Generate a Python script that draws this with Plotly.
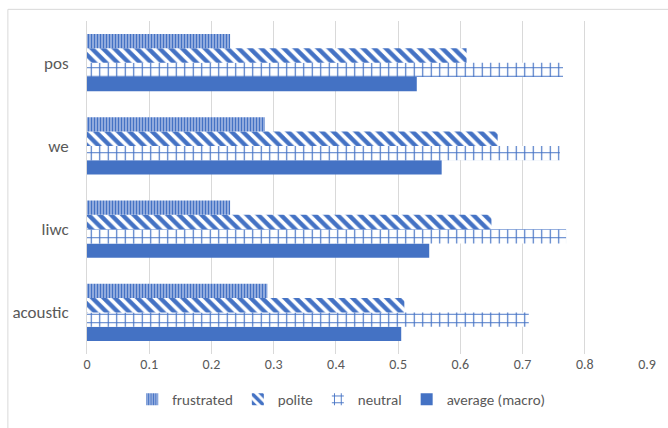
import plotly.graph_objects as go

# Feature sets (bottom to top) and per-class scores
categories = ["acoustic", "liwc", "we", "pos"]
frustrated = [0.29, 0.23, 0.286, 0.23]
polite = [0.51, 0.65, 0.66, 0.61]
neutral = [0.71, 0.77, 0.76, 0.765]
average_macro = [0.505, 0.55, 0.57, 0.53]
x_ticks = [0, 0.1, 0.2, 0.3, 0.4, 0.5, 0.6, 0.7, 0.8, 0.9]

BLUE = "#4472C4"
LIGHT = "#A9BDE6"
GRID = "#D9D9D9"
TEXT = "#595959"
FONT = "Carlito, Calibri, Noto Sans, sans-serif"

fig = go.Figure()

# horizontal grouped bars stack upward, so the bottom bar goes first
fig.add_trace(go.Bar(
    y=categories, x=average_macro, orientation="h", name="average (macro)",
    marker=dict(color=BLUE, line=dict(width=0)),
))
fig.add_trace(go.Bar(
    y=categories, x=neutral, orientation="h", name="neutral",
    marker=dict(color="white", line=dict(width=0),
                pattern=dict(shape="+", fgcolor=BLUE, bgcolor="white",
                             fgopacity=1, size=8.5, solidity=0.25)),
))
fig.add_trace(go.Bar(
    y=categories, x=polite, orientation="h", name="polite",
    marker=dict(color="white", line=dict(width=0),
                pattern=dict(shape="\\", fgcolor=BLUE, bgcolor="white",
                             fgopacity=1, size=8, solidity=0.55)),
))
fig.add_trace(go.Bar(
    y=categories, x=frustrated, orientation="h", name="frustrated",
    marker=dict(color=LIGHT, line=dict(width=0),
                pattern=dict(shape="|", fgcolor=BLUE, bgcolor=LIGHT,
                             fgopacity=1, size=3, solidity=0.5)),
))

# light chart-area frame
fig.add_shape(type="rect", xref="paper", yref="paper",
              x0=-0.1413, x1=1.3, y0=-0.5, y1=1.035,
              line=dict(color=GRID, width=1), fillcolor="rgba(0,0,0,0)",
              layer="below")

fig.update_layout(
    width=668, height=428,
    margin=dict(l=86, r=16, t=21, b=65),
    paper_bgcolor="white", plot_bgcolor="white",
    barmode="group", bargap=0.31, bargroupgap=0,
    font=dict(family=FONT, color=TEXT, size=14),
    showlegend=True,
    legend=dict(orientation="h", x=0.454, xanchor="center",
                y=-0.137, yanchor="middle", traceorder="reversed",
                font=dict(size=15, color=TEXT), itemwidth=30,
                bgcolor="rgba(0,0,0,0)"),
    xaxis=dict(range=[0, 0.9], tickvals=x_ticks,
               ticktext=[f"{v:g}" for v in x_ticks],
               showgrid=True, gridcolor=GRID, gridwidth=1,
               zeroline=False, showline=False, ticks="",
               tickfont=dict(size=14, color=TEXT)),
    yaxis=dict(showgrid=False, zeroline=False, showline=True,
               linecolor=GRID, linewidth=1, ticks="",
               ticklabelstandoff=14,
               tickfont=dict(size=17, color=TEXT)),
)

fig.write_html("out.html")
